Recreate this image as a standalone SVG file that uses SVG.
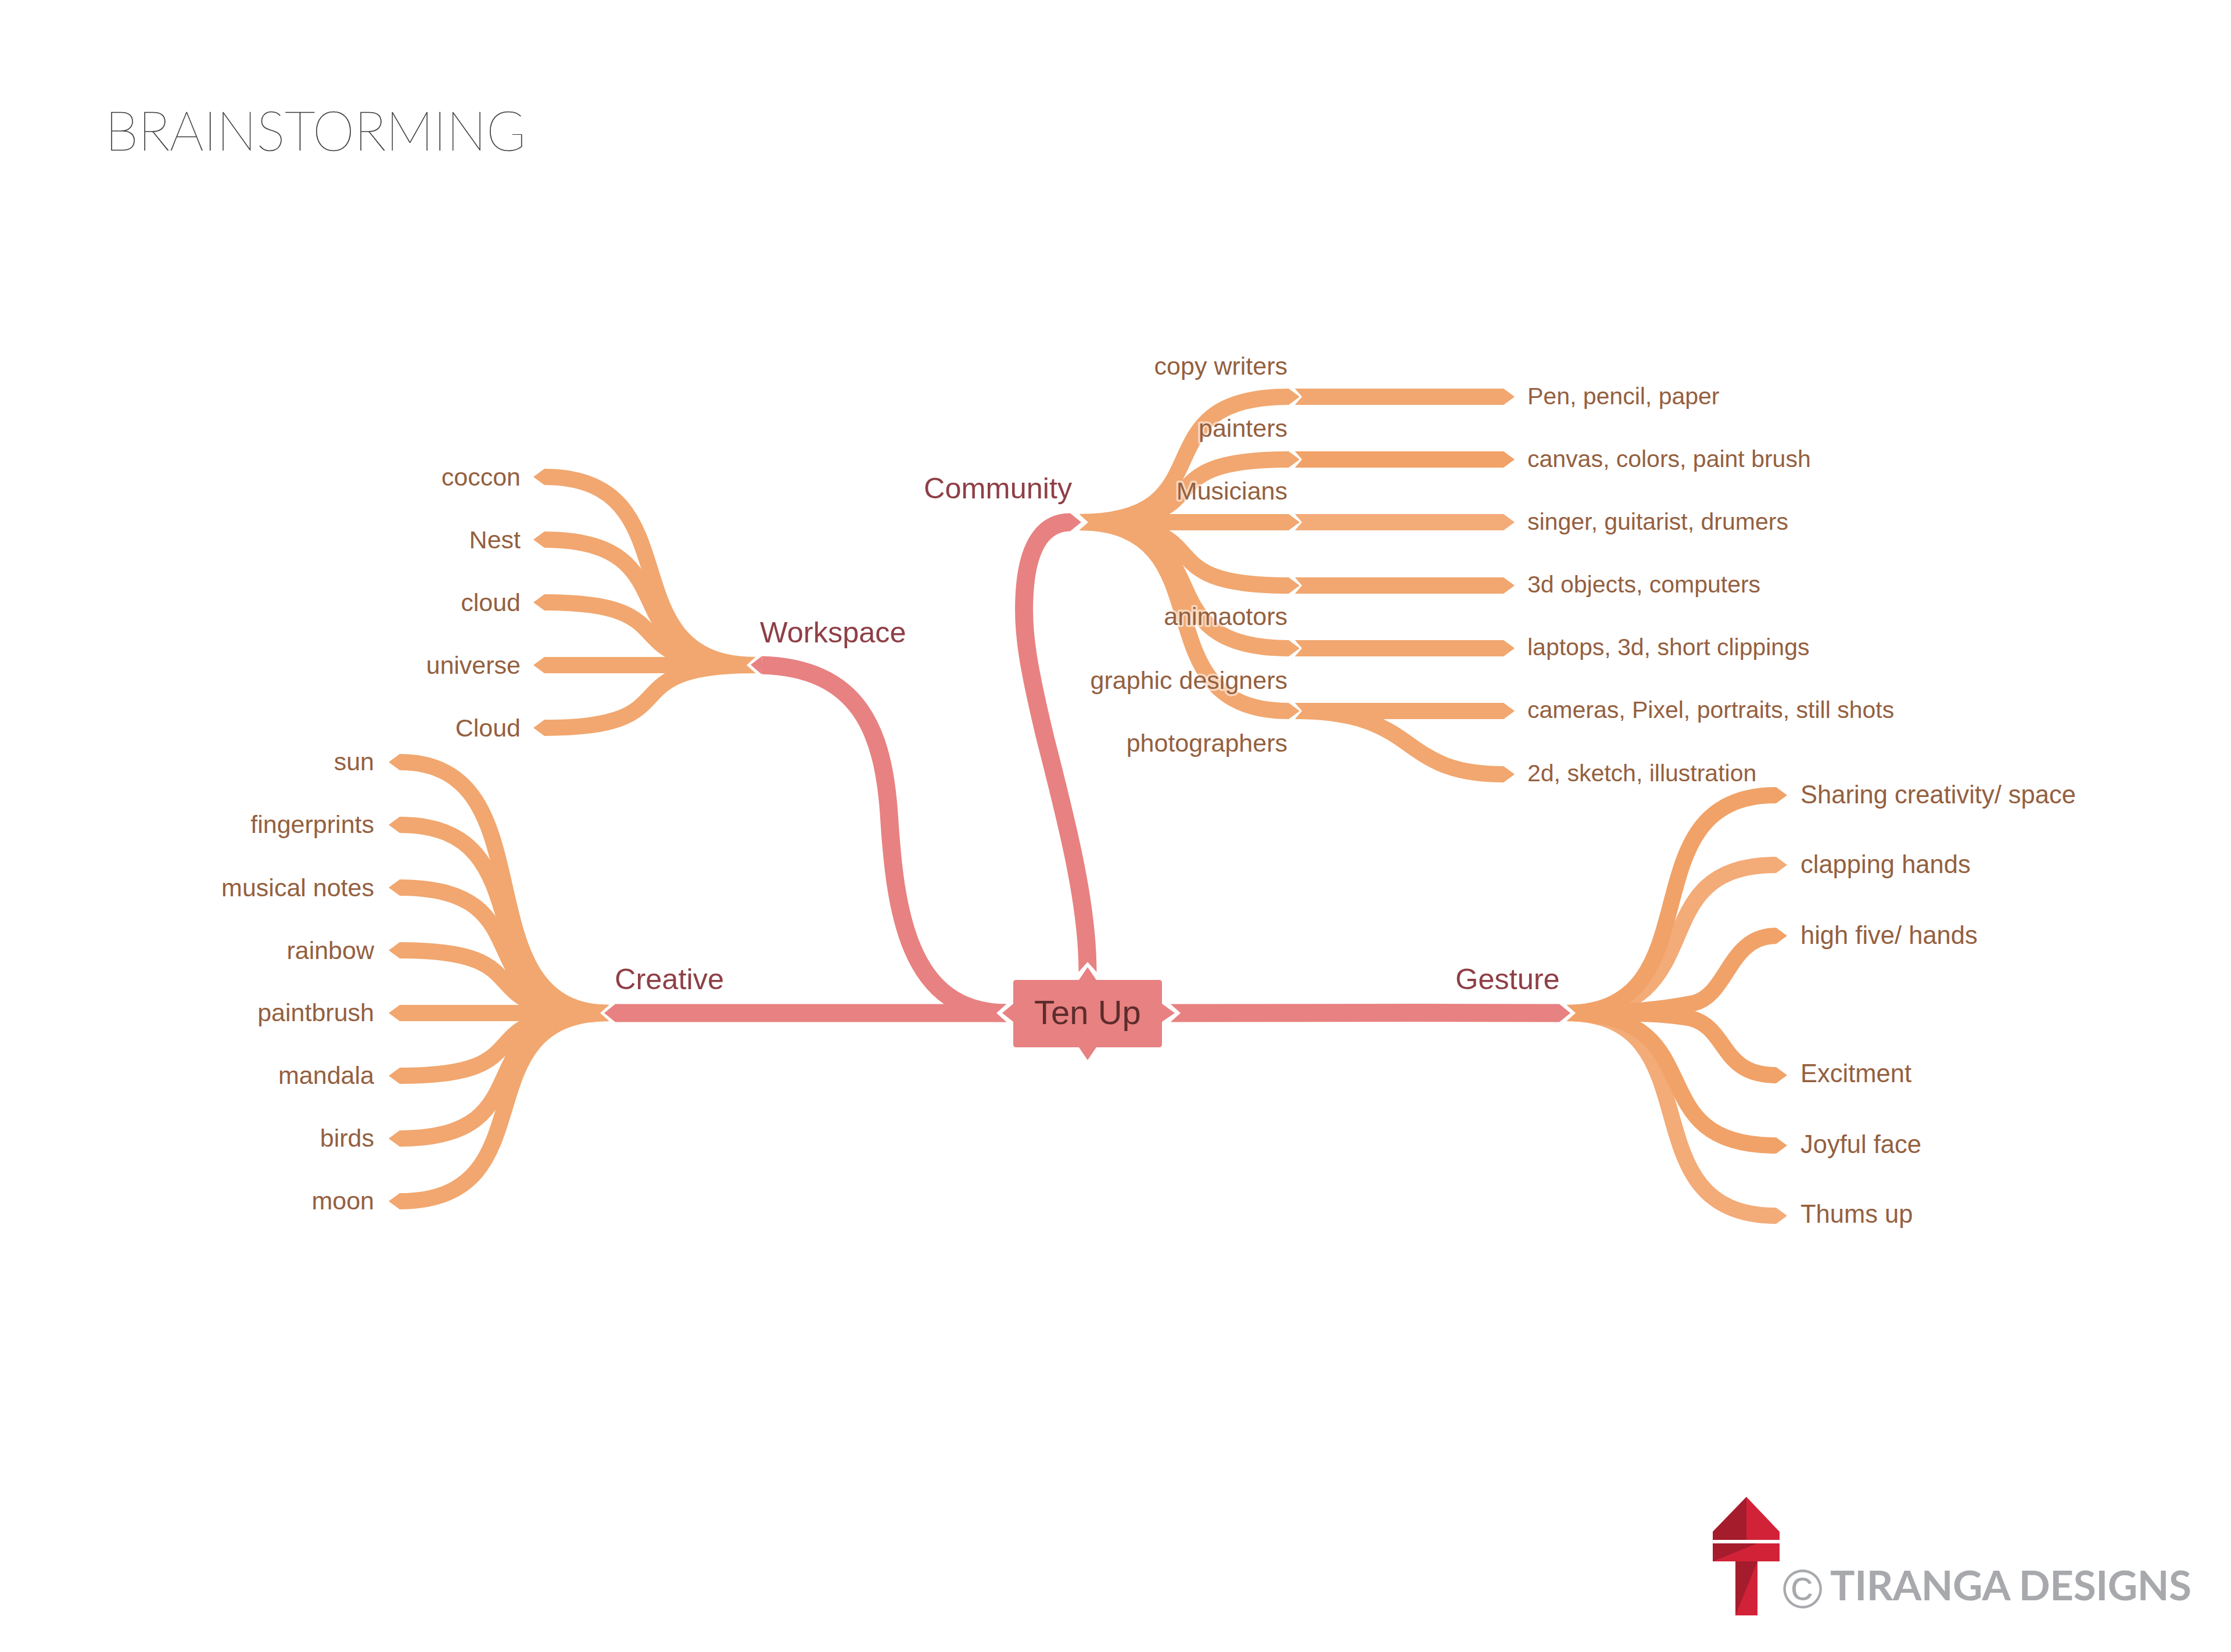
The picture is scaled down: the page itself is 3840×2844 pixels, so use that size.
<svg xmlns="http://www.w3.org/2000/svg" width="3840" height="2844" viewBox="0 0 3840 2844">
<style>
text{font-family:"Liberation Sans",Arial,sans-serif}
.o,.od,.ol,.p{fill:none;stroke-linecap:butt}
.o{stroke:#f1a76f;stroke-width:28;marker-end:url(#tipO)}
.od{stroke:#f1a268;stroke-width:28;marker-end:url(#tipD)}
.ol{stroke:#f3ab78;stroke-width:28;marker-end:url(#tipL)}
.p{stroke:#e88181;stroke-width:31;marker-end:url(#tipP)}
.leaf{font-size:43px;fill:#94603f}
.leafR{font-size:41px;fill:#94603f}
.leafG{font-size:43.500px;fill:#94603f}
.end{text-anchor:end}
.halo{paint-order:stroke;stroke:#fff;stroke-opacity:.55;stroke-width:7px;stroke-linejoin:round}
.branch{font-size:50.500px;fill:#8e3f46}
.center{font-size:58px;fill:#5c2c2c;text-anchor:middle}
</style>
<defs>
<marker id="tipO" markerUnits="userSpaceOnUse" markerWidth="24" markerHeight="32" refX="0" refY="16" orient="auto"><path d="M0,2L19,16L0,30z" fill="#f1a76f"/></marker>
<marker id="tipD" markerUnits="userSpaceOnUse" markerWidth="24" markerHeight="32" refX="0" refY="16" orient="auto"><path d="M0,2L19,16L0,30z" fill="#f1a268"/></marker>
<marker id="tipL" markerUnits="userSpaceOnUse" markerWidth="24" markerHeight="32" refX="0" refY="16" orient="auto"><path d="M0,2L19,16L0,30z" fill="#f3ab78"/></marker>
<marker id="tipP" markerUnits="userSpaceOnUse" markerWidth="24" markerHeight="34" refX="0" refY="17" orient="auto"><path d="M0,1.500L19,17L0,32.500z" fill="#e88181"/></marker>
<path id="notch" d="M-2,-17L17,0L-2,17z" fill="#fff"/>
<path id="notchS" d="M-2,-16L12,0L-2,16z" fill="#fff"/>
</defs>
<rect width="3840" height="2844" fill="#fff"/>
<g id="title"><text x="181" y="259" font-size="94" textLength="724" lengthAdjust="spacingAndGlyphs" style="font-family:Lato,'Liberation Sans',sans-serif;font-weight:100" fill="#3a3a3a" stroke="#3a3a3a" stroke-width=".6">BRAINSTORMING</text></g>
<g id="connectors">
<g id="second-level">
<path class="o" d="M2229,683H2588"/>
<path class="od" d="M2229,791H2588"/>
<path class="ol" d="M2229,899H2588"/>
<path class="o" d="M2229,1008H2588"/>
<path class="o" d="M2229,1116H2588"/>
<path class="o" d="M2229,1224H2588"/>
<path class="o" d="M2229,1224C2450,1224 2400,1333 2588,1333"/>
</g>
<g id="notches-second">
<use href="#notchS" x="2229" y="683"/><use href="#notchS" x="2229" y="791"/><use href="#notchS" x="2229" y="899"/><use href="#notchS" x="2229" y="1008"/><use href="#notchS" x="2229" y="1116"/><use href="#notchS" x="2229" y="1224"/>
</g>
<g id="first-level">
<path class="o" d="M1302,1145C1037,1145 1202,821 937,821"/>
<path class="o" d="M1302,1145C1037,1145 1202,929 937,929"/>
<path class="o" d="M1302,1145C1037,1145 1202,1037 937,1037"/>
<path class="o" d="M1302,1145H937"/>
<path class="o" d="M1302,1145C1037,1145 1202,1253 937,1253"/>
<path class="o" d="M1050,1744C785,1744 953,1312 688,1312"/>
<path class="o" d="M1050,1744C785,1744 953,1420 688,1420"/>
<path class="o" d="M1050,1744C785,1744 953,1528 688,1528"/>
<path class="o" d="M1050,1744C785,1744 953,1636 688,1636"/>
<path class="o" d="M1050,1744H688"/>
<path class="o" d="M1050,1744C785,1744 953,1852 688,1852"/>
<path class="o" d="M1050,1744C785,1744 953,1960 688,1960"/>
<path class="o" d="M1050,1744C785,1744 953,2068 688,2068"/>
<path class="o" d="M1856,899C2121,899 1953,683 2218,683"/>
<path class="o" d="M1856,899C2121,899 1953,791 2218,791"/>
<path class="o" d="M1856,899H2218"/>
<path class="o" d="M1856,899C2121,899 1953,1008 2218,1008"/>
<path class="o" d="M1856,899C2121,899 1953,1116 2218,1116"/>
<path class="o" d="M1856,899C2121,899 1953,1224 2218,1224"/>
<path class="ol" d="M2695,1744C2960,1744 2792,2093 3057,2093"/>
<path class="od" d="M2695,1744C2960,1744 2810,1972 3057,1972"/>
<path class="od" d="M2695,1744C2800,1744 2860,1744 2910,1753C2975,1770 2960,1851 3057,1851"/>
<path class="ol" d="M2695,1744C2960,1744 2815,1489 3057,1489"/>
<path class="od" d="M2695,1744C2960,1744 2792,1369 3057,1369"/>
<path class="od" d="M2695,1744C2800,1744 2860,1738 2915,1727C2975,1712 2975,1611 3057,1611"/>
</g>
<g id="notches-first">
<use href="#notch" transform="translate(1302,1145) rotate(180)"/>
<use href="#notch" transform="translate(1050,1744) rotate(180)"/>
<use href="#notch" x="1856" y="899"/>
<use href="#notch" x="2695" y="1744"/>
</g>
<g id="main">
<path class="p" d="M1732,1744C1560,1744 1540,1560 1530,1400C1520,1260 1480,1150 1311,1145"/>
<path class="p" d="M1732,1744H1059"/>
<path class="p" d="M1872,1673C1872,1560 1840,1430 1800,1274C1770,1150 1760,1090 1763,1030C1766,950 1790,899 1842,899"/>
<path class="p" d="M2015,1744C2300,1742 2450,1744 2684,1744"/>
</g>
<g id="notches-root">
<use href="#notch" transform="translate(1732,1744) rotate(180)"/>
<use href="#notch" transform="translate(1872,1673) rotate(-90)"/>
<use href="#notch" x="2015" y="1744"/>
</g>
</g>
<g id="node-ten-up">
<path d="M1749,1687H1857L1872,1665L1887,1687H1995Q2000,1687 2000,1692V1728L2022,1744L2000,1759V1798Q2000,1803 1995,1803H1887L1872,1825L1857,1803H1749Q1744,1803 1744,1798V1759L1725,1744L1744,1728V1692Q1744,1687 1749,1687z" fill="#e88181"/>
<text class="center" x="1872" y="1763">Ten Up</text>
</g>
<g id="node-workspace"><text class="branch" x="1308" y="1106">Workspace</text></g>
<g id="node-community"><text class="branch" x="1590" y="858">Community</text></g>
<g id="node-creative"><text class="branch" x="1058" y="1703">Creative</text></g>
<g id="node-gesture"><text class="branch" x="2505" y="1703">Gesture</text></g>
<g id="workspace-leaves">
<g id="leaf-coccon"><text class="leaf end" x="896" y="836">coccon</text></g>
<g id="leaf-nest"><text class="leaf end" x="896" y="944">Nest</text></g>
<g id="leaf-cloud"><text class="leaf end" x="896" y="1052">cloud</text></g>
<g id="leaf-universe"><text class="leaf end" x="896" y="1160">universe</text></g>
<g id="leaf-cloud2"><text class="leaf end" x="896" y="1268">Cloud</text></g>
</g>
<g id="creative-leaves">
<g id="leaf-sun"><text class="leaf end" x="644" y="1326">sun</text></g>
<g id="leaf-fingerprints"><text class="leaf end" x="644" y="1434">fingerprints</text></g>
<g id="leaf-musical"><text class="leaf end" x="644" y="1543">musical notes</text></g>
<g id="leaf-rainbow"><text class="leaf end" x="644" y="1651">rainbow</text></g>
<g id="leaf-paintbrush"><text class="leaf end" x="644" y="1758">paintbrush</text></g>
<g id="leaf-mandala"><text class="leaf end" x="644" y="1866">mandala</text></g>
<g id="leaf-birds"><text class="leaf end" x="644" y="1974">birds</text></g>
<g id="leaf-moon"><text class="leaf end" x="644" y="2082">moon</text></g>
</g>
<g id="community-leaves">
<g id="leaf-copy"><text class="leaf end halo" x="2216" y="645">copy writers</text></g>
<g id="leaf-painters"><text class="leaf end halo" x="2216" y="752">painters</text></g>
<g id="leaf-musicians"><text class="leaf end halo" x="2216" y="860">Musicians</text></g>
<g id="leaf-animators"><text class="leaf end halo" x="2216" y="1076">animaotors</text></g>
<g id="leaf-graphic"><text class="leaf end halo" x="2216" y="1186">graphic designers</text></g>
<g id="leaf-photographers"><text class="leaf end halo" x="2216" y="1294">photographers</text></g>
</g>
<g id="community-details">
<g id="leaf-pen"><text class="leafR" x="2629" y="696">Pen, pencil, paper</text></g>
<g id="leaf-canvas"><text class="leafR" x="2629" y="804">canvas, colors, paint brush</text></g>
<g id="leaf-singer"><text class="leafR" x="2629" y="912">singer, guitarist, drumers</text></g>
<g id="leaf-3d"><text class="leafR" x="2629" y="1020">3d objects, computers</text></g>
<g id="leaf-laptops"><text class="leafR" x="2629" y="1128">laptops, 3d, short clippings</text></g>
<g id="leaf-cameras"><text class="leafR" x="2629" y="1236">cameras, Pixel, portraits, still shots</text></g>
<g id="leaf-2d"><text class="leafR" x="2629" y="1345">2d, sketch, illustration</text></g>
</g>
<g id="gesture-leaves">
<g id="leaf-sharing"><text class="leafG" x="3099" y="1383">Sharing creativity/ space</text></g>
<g id="leaf-clapping"><text class="leafG" x="3099" y="1503">clapping hands</text></g>
<g id="leaf-highfive"><text class="leafG" x="3099" y="1625">high five/ hands</text></g>
<g id="leaf-excitment"><text class="leafG" x="3099" y="1863">Excitment</text></g>
<g id="leaf-joyful"><text class="leafG" x="3099" y="1985">Joyful face</text></g>
<g id="leaf-thums"><text class="leafG" x="3099" y="2105">Thums up</text></g>
</g>
<g id="logo">
<path d="M3006,2577L3063,2637V2651H2948V2637z" fill="#d22238"/>
<path d="M3006,2577L2948,2637V2651H3006z" fill="#a51c2d"/>
<rect x="2948" y="2657" width="115" height="31" fill="#d22238"/>
<path d="M2948,2657H3025L2948,2688z" fill="#a51c2d"/>
<rect x="2987" y="2688" width="38" height="93" fill="#d22238"/>
<path d="M2987,2688H3025L2987,2781z" fill="#a51c2d"/>
<text x="3068" y="2768" font-size="94" fill="#a7a9ac">©</text>
<text x="3150" y="2755" font-size="71" font-weight="700" textLength="622" style="font-family:Lato,'Liberation Sans',sans-serif" fill="#a7a9ac">TIRANGA DESIGNS</text>
</g>
</svg>
